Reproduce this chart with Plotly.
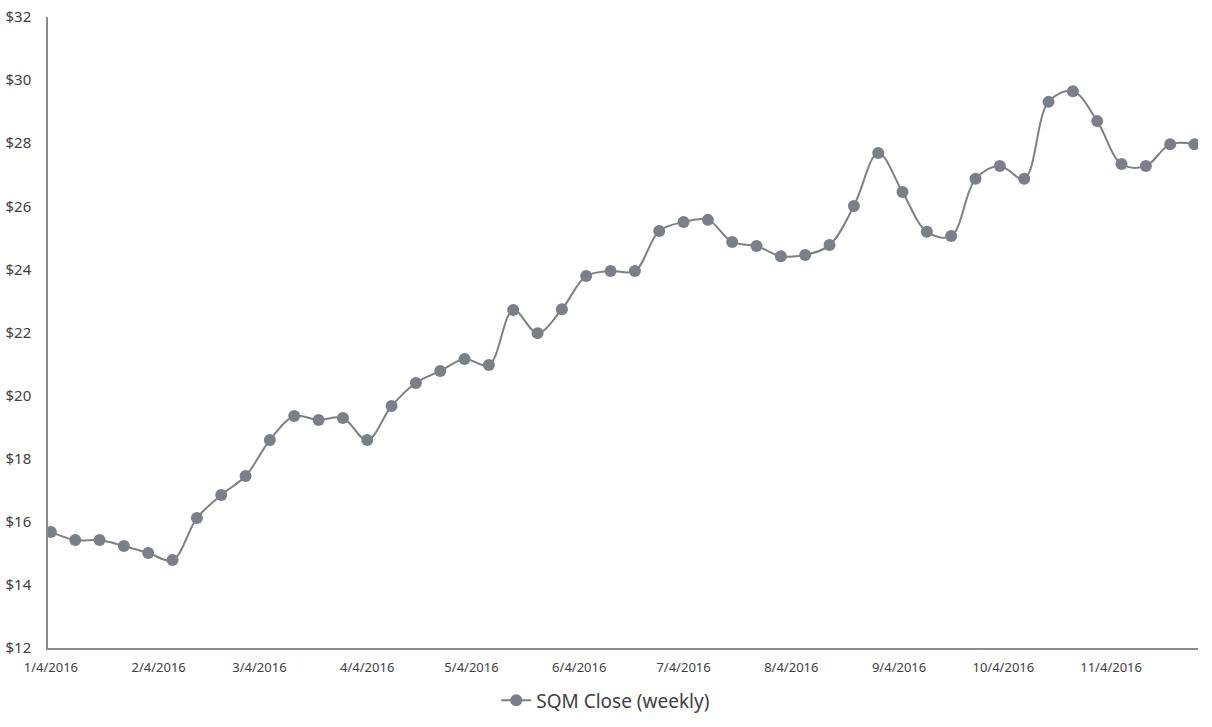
import plotly.graph_objects as go
import pandas as pd

start_date = "2016-01-04"
n_weeks = 48
dates = pd.date_range(start_date, periods=n_weeks, freq="7D")

close = [15.68, 15.42, 15.42, 15.23, 15.01, 14.79, 16.12, 16.85, 17.45, 18.59,
         19.35, 19.23, 19.29, 18.59, 19.67, 20.40, 20.78, 21.16, 20.97, 22.71,
         21.98, 22.74, 23.79, 23.95, 23.95, 25.22, 25.50, 25.57, 24.87, 24.74,
         24.42, 24.46, 24.77, 26.01, 27.69, 26.45, 25.19, 25.06, 26.87, 27.28,
         26.87, 29.31, 29.65, 28.70, 27.34, 27.28, 27.97, 27.97]

tick_dates = ["2016-01-04", "2016-02-04", "2016-03-04", "2016-04-04", "2016-05-04",
              "2016-06-04", "2016-07-04", "2016-08-04", "2016-09-04", "2016-10-04",
              "2016-11-04"]
tick_labels = ["1/4/2016", "2/4/2016", "3/4/2016", "4/4/2016", "5/4/2016",
               "6/4/2016", "7/4/2016", "8/4/2016", "9/4/2016", "10/4/2016",
               "11/4/2016"]
y_ticks = [12, 14, 16, 18, 20, 22, 24, 26, 28, 30, 32]
y_labels = ["$%d" % v for v in y_ticks]
series_name = "SQM Close (weekly)"

font_family = "Liberation Sans Narrow, Noto Sans, sans-serif"
text_color = "#404040"

fig = go.Figure()
fig.add_trace(go.Scatter(
    x=dates, y=close, name=series_name, mode="lines+markers",
    line=dict(color="#808080", width=2, shape="spline", smoothing=1.0),
    marker=dict(color="#7a7f88", size=12),
))

fig.update_layout(
    width=1212, height=727,
    margin=dict(l=48, r=14, t=17, b=79, autoexpand=False),
    paper_bgcolor="white", plot_bgcolor="white",
    font=dict(family=font_family, color=text_color),
    showlegend=True,
    legend=dict(orientation="h", x=0.485, xanchor="center", y=-0.083, yanchor="middle",
                font=dict(size=19, color=text_color, family=font_family)),
    xaxis=dict(
        type="date", automargin=False,
        range=["2016-01-03 04:00", "2016-11-29 00:00"],
        tickvals=tick_dates, ticktext=tick_labels,
        showgrid=False, zeroline=False,
        showline=True, linecolor="#8c8c8c", linewidth=1.5,
        ticks="", ticklabelstandoff=7, tickfont=dict(size=13, color=text_color),
    ),
    yaxis=dict(
        range=[12, 32], tickvals=y_ticks, ticktext=y_labels, automargin=False,
        showgrid=False, zeroline=False,
        showline=True, linecolor="#8c8c8c", linewidth=1.5,
        ticks="", ticklabelstandoff=12, tickfont=dict(size=15, color=text_color),
    ),
)

fig.write_html(
    "out.html",
    config={"displayModeBar": False},
    post_script="document.body.style.margin='0';document.body.style.overflow='hidden';",
)
